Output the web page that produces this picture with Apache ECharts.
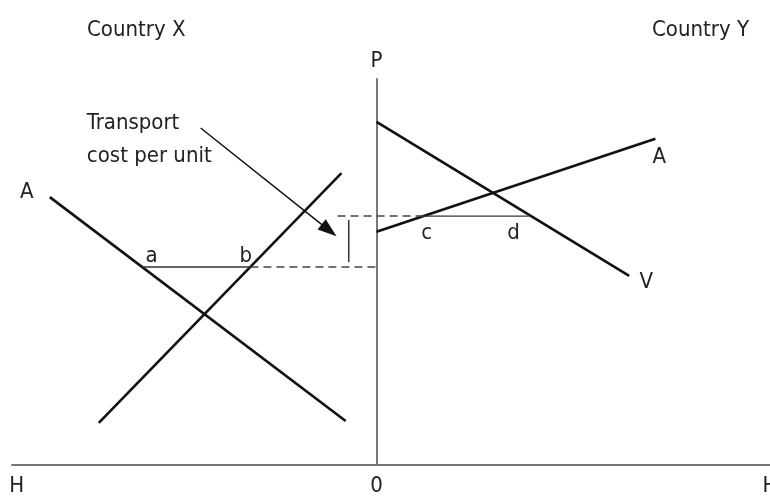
<!DOCTYPE html>
<html>
<head>
<meta charset="utf-8">
<script src="https://cdn.jsdelivr.net/npm/echarts@6/dist/echarts.min.js"></script>
<style>
  html, body { margin: 0; padding: 0; background: #fff; }
  #chart { width: 770px; height: 497px; }
</style>
</head>
<body>
<div id="chart"></div>
<script>
// curve end points [quantity, price], quantity < 0 is country X, > 0 is country Y
var demandX = [[-84.7, 69.4], [-8.0, 11.4]];
var supplyX = [[-72.0, 10.9], [-9.1, 75.6]];
var demandY = [[0, 88.9], [65.5, 49.0]];
var supplyY = [[0, 60.4], [72.3, 84.5]];

// trade prices and quantities
var priceX = 51.3;
var priceY = 64.5;
var abQty = [-60.8, -32.7];
var cdQty = [12.3, 39.5];
var dashStartY = -10.1;
var transportBar = [[-7.2, 63.5], [-7.2, 52.6]];
var arrowLine = [[-45.6, 87.3], [-12.3, 60.8]];

// labels
var pointLabels = [
  { name: "A", value: [-90.7, 70.7] },
  { name: "a", value: [-58.3, 54.1] },
  { name: "b", value: [-33.9, 54.1] },
  { name: "c", value: [13.0, 60.1] },
  { name: "d", value: [35.5, 60.1] },
  { name: "A", value: [73.3, 79.8] },
  { name: "V", value: [69.9, 47.4] }
];
var noteLabel = [{ name: "Transport\ncost per unit", value: [-75.1, 84.2] }];
var axisTicks = [-93.3, 0, 102];
var axisTickNames = ["H", "0", "H"];

var FONT = "'Liberation Sans Narrow', 'DejaVu Sans Condensed', 'Roboto Condensed', sans-serif";
var FS = 22;

var myChart = echarts.init(document.getElementById("chart"));

function seg(data, width, color, type) {
  return {
    type: "line",
    data: data,
    showSymbol: false,
    silent: true,
    lineStyle: { width: width, color: color, type: type || "solid" },
    z: 3
  };
}

myChart.setOption({
  animation: false,
  title: [
    { text: "Country X", left: 82, top: 14, textStyle: { fontFamily: FONT, fontSize: FS, fontWeight: "normal", color: "#222" } },
    { text: "Country Y", right: 16, top: 14, textStyle: { fontFamily: FONT, fontSize: FS, fontWeight: "normal", color: "#222" } }
  ],
  grid: { left: 12, right: 0, top: 79, bottom: 32, outerBoundsMode: "none", containLabel: false },
  xAxis: {
    type: "value",
    min: -94.5,
    max: 102,
    splitLine: { show: false },
    axisTick: { show: false },
    axisLine: { lineStyle: { color: "#777", width: 2 } },
    axisLabel: {
      customValues: axisTicks,
      margin: 10,
      fontFamily: FONT,
      fontSize: FS,
      color: "#222",
      formatter: function (v) {
        return axisTickNames[axisTicks.indexOf(v)];
      }
    }
  },
  yAxis: {
    type: "value",
    min: 0,
    max: 100,
    name: "P",
    nameLocation: "end",
    nameGap: 7,
    nameTextStyle: { fontFamily: FONT, fontSize: FS, color: "#222" },
    splitLine: { show: false },
    axisTick: { show: false },
    axisLabel: { show: false },
    axisLine: { onZero: true, lineStyle: { color: "#777", width: 2 } }
  },
  series: [
    seg(demandX, 2.6, "#111"),
    seg(supplyX, 2.6, "#111"),
    seg(demandY, 2.6, "#111"),
    seg(supplyY, 2.6, "#111"),
    seg([[abQty[0], priceX], [abQty[1], priceX]], 1.3, "#333"),
    seg([[abQty[1], priceX], [0, priceX]], 1.5, "#444", [8, 5]),
    seg([[dashStartY, priceY], [cdQty[0], priceY]], 1.5, "#444", [8, 5]),
    seg([[cdQty[0], priceY], [cdQty[1], priceY]], 1.3, "#333"),
    seg(transportBar, 1.5, "#333"),
    {
      type: "line",
      data: [],
      silent: true,
      markLine: {
        silent: true,
        symbol: "none",
        label: { show: false },
        lineStyle: { color: "#111", width: 1.5, type: "solid" },
        data: [[
          { coord: arrowLine[0], symbol: "none" },
          { coord: arrowLine[1], symbol: "triangle", symbolSize: [13, 19] }
        ]]
      }
    },
    {
      type: "scatter",
      data: pointLabels,
      symbolSize: 0,
      silent: true,
      itemStyle: { opacity: 1 },
      label: {
        show: true,
        position: "inside",
        formatter: "{b}",
        fontFamily: FONT,
        fontSize: FS,
        color: "#222"
      }
    },
    {
      type: "scatter",
      data: noteLabel,
      symbolSize: 0,
      silent: true,
      itemStyle: { opacity: 1 },
      label: {
        show: true,
        position: "inside",
        align: "left",
        verticalAlign: "middle",
        lineHeight: 33,
        formatter: "{b}",
        fontFamily: FONT,
        fontSize: FS,
        color: "#222"
      }
    }
  ]
});
</script>
</body>
</html>
